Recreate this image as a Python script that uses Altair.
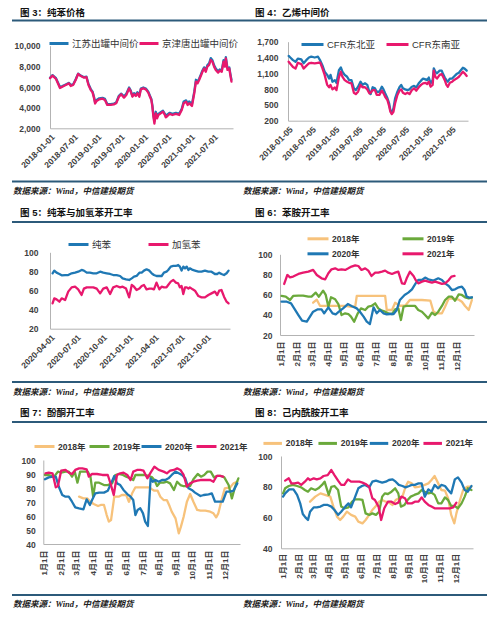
import altair as alt
import pandas as pd

FONT = "Liberation Sans, Noto Sans CJK SC"
SRC_FONT = "Liberation Serif, Noto Sans CJK SC"
BLUE = "#1f78b4"
PINK = "#e8186d"
TAN = "#f7c27b"
GREEN = "#6aa93b"
RULE = "#2c5a7a"
SOURCE = "数据来源：Wind，中信建投期货"
W, H = 484, 600

# ---------------- 图 3：纯苯价格 ----------------
p1_names = ["江苏出罐中间价", "京津唐出罐中间价"]
p1_ticks = ["2018-01-01", "2018-07-01", "2019-01-01", "2019-07-01", "2020-01-01",
            "2020-07-01", "2021-01-01", "2021-07-01"]
p1_dates = ["2018-01-01","2018-01-21","2018-02-17","2018-03-20","2018-04-08","2018-05-04","2018-05-30","2018-06-12","2018-07-01","2018-07-21",
            "2018-08-09","2018-08-30","2018-09-25","2018-10-13","2018-10-29","2018-11-16","2018-11-30","2018-12-12","2018-12-20",
            "2019-01-01","2019-01-21","2019-02-16","2019-03-07","2019-03-25","2019-04-21","2019-05-16","2019-06-03","2019-06-24","2019-07-12",
            "2019-08-03","2019-08-21","2019-09-12","2019-09-25","2019-10-08","2019-10-21","2019-11-04","2019-11-16","2019-12-01","2019-12-13",
            "2020-01-01","2020-01-21","2020-02-09","2020-02-22","2020-03-04","2020-03-12","2020-03-20","2020-03-28","2020-04-08","2020-04-18",
            "2020-04-28","2020-05-16","2020-06-03","2020-06-18","2020-06-25","2020-07-08","2020-07-26","2020-08-16","2020-09-12","2020-10-08",
            "2020-10-28","2020-11-12","2020-12-01","2020-12-13","2020-12-26",
            "2021-01-16","2021-02-03","2021-02-16","2021-03-01","2021-03-13","2021-03-26","2021-04-08","2021-04-21","2021-05-04","2021-05-16",
            "2021-05-30","2021-06-12","2021-06-25","2021-07-08","2021-07-21","2021-08-09","2021-08-21","2021-09-06","2021-09-20","2021-10-01",
            "2021-10-08","2021-10-21","2021-11-04","2021-11-12","2021-11-21"]
p1_jiangsu = [6900,7150,6850,6000,6100,6250,6400,6200,6250,6750,
              7300,7100,6950,7000,6300,5800,5550,5000,4500,
              4750,4900,4950,4850,4350,4350,4400,4500,5150,5350,
              5100,5350,5950,5650,5150,5400,5250,5500,5200,5850,
              5950,5850,5550,5150,4850,4250,3300,2700,3600,3150,
              3400,3550,3700,3400,3200,3350,3500,3400,3500,3400,
              3900,4600,4700,4450,4600,
              4350,5550,6700,6500,6800,7200,7600,7900,7650,8100,
              8300,8800,8600,8100,7800,7500,7700,7600,8600,8100,
              8900,7800,7900,7300,6700]
p1_jingjintang = [6850,7100,6770,5900,6030,6190,6350,6100,6200,6680,
                  7260,7060,6900,6950,6190,5700,5480,4900,4400,
                  4650,4800,4870,4740,4260,4260,4320,4420,5060,5290,
                  4970,5230,5850,5550,5060,5290,5130,5390,5060,5770,
                  5870,5770,5450,5060,4740,4100,3130,2450,3450,2970,
                  3290,3450,3610,3290,3060,3190,3390,3290,3390,3290,
                  3770,4420,4580,4260,4420,
                  4160,5390,6520,6350,6680,7060,7480,7800,7480,7970,
                  8130,8610,8450,7970,7650,7390,7580,7480,8450,7970,
                  8770,7650,7800,7160,6520]

# ---------------- 图 4：乙烯中间价 ----------------
p2_names = ["CFR东北亚", "CFR东南亚"]
p2_ticks = ["2018-01-05", "2018-07-05", "2019-01-05", "2019-07-05", "2020-01-05",
            "2020-07-05", "2021-01-05", "2021-07-05"]
p2_dates = ["2018-01-10","2018-01-23","2018-02-13","2018-03-05","2018-03-23","2018-04-19","2018-05-07","2018-05-28","2018-06-18","2018-07-06",
            "2018-08-02","2018-08-28","2018-09-15","2018-10-01","2018-10-19","2018-11-08","2018-11-23","2018-12-04","2018-12-19","2019-01-07",
            "2019-01-20","2019-02-08","2019-02-23","2019-03-07","2019-03-25","2019-04-13","2019-04-29","2019-05-17","2019-06-05","2019-06-20",
            "2019-07-08","2019-07-27","2019-08-12","2019-08-31","2019-09-18","2019-10-04","2019-10-14","2019-10-30","2019-11-17","2019-12-01",
            "2019-12-22","2020-01-10","2020-01-23","2020-02-05","2020-02-23","2020-03-07","2020-03-17","2020-03-28","2020-04-10","2020-04-23",
            "2020-05-11","2020-05-27","2020-06-10","2020-06-23","2020-07-11","2020-07-29","2020-08-14","2020-09-01","2020-09-19","2020-10-06",
            "2020-10-25","2020-11-12","2020-11-28","2020-12-17","2020-12-30","2021-01-12","2021-01-26","2021-02-11","2021-02-20","2021-03-04",
            "2021-03-17","2021-04-07","2021-04-23","2021-05-04","2021-05-17","2021-05-30","2021-06-10","2021-06-26","2021-07-14","2021-07-27",
            "2021-08-17","2021-09-05","2021-09-17","2021-10-06","2021-10-19","2021-11-05"]
p2_northeast = [1430,1400,1350,1320,1380,1365,1290,1350,1400,1415,
                1400,1415,1340,1255,1130,1070,1000,1070,940,970,
                920,1160,1210,1130,1070,1035,970,970,815,780,
                845,940,880,910,880,750,705,835,815,750,
                750,845,795,720,625,530,400,350,435,625,
                750,835,880,815,795,780,795,845,860,835,
                910,960,1000,985,970,1020,910,970,1195,1130,
                1100,1150,1150,1085,1020,970,940,1000,1000,1035,
                1085,1110,1150,1205,1190,1150]
p2_southeast = [1320,1280,1220,1190,1300,1275,1190,1240,1290,1300,
                1290,1300,1300,1200,1070,880,835,880,795,830,
                780,1030,1130,1035,970,940,920,910,730,705,
                750,880,835,835,795,720,730,780,780,690,
                690,770,720,655,590,480,370,325,370,530,
                690,770,795,730,705,730,705,780,815,770,
                835,880,910,920,895,940,845,880,1150,1035,
                1000,1070,1085,1035,970,880,845,920,940,970,
                1000,1035,1070,1130,1100,1050]

# ---------------- 图 5：纯苯与加氢苯开工率 ----------------
p3_names = ["纯苯", "加氢苯"]
p3_ticks = ["2020-04-01", "2020-07-01", "2020-10-01", "2021-01-01", "2021-04-01",
            "2021-07-01", "2021-10-01"]
p3_dates = ["2020-04-10","2020-04-16","2020-04-24","2020-05-04","2020-05-12","2020-05-24","2020-06-04","2020-06-16","2020-06-28","2020-07-09",
            "2020-07-21","2020-07-29","2020-08-08","2020-08-19","2020-08-31","2020-09-12","2020-09-24","2020-10-05","2020-10-17","2020-10-29",
            "2020-11-09","2020-11-21","2020-12-03","2020-12-12","2020-12-24","2021-01-04","2021-01-13","2021-01-21","2021-01-30","2021-02-09",
            "2021-02-17","2021-02-25","2021-03-06","2021-03-16","2021-03-24","2021-04-01","2021-04-10","2021-04-20","2021-04-28","2021-05-06",
            "2021-05-15","2021-05-21","2021-05-30","2021-06-08","2021-06-17","2021-06-25","2021-07-01","2021-07-07","2021-07-13","2021-07-19",
            "2021-07-25","2021-07-31","2021-08-05","2021-08-15","2021-08-23","2021-09-04","2021-09-15","2021-09-27","2021-10-09","2021-10-20",
            "2021-11-01","2021-11-09","2021-11-16","2021-11-24","2021-12-03","2021-12-12","2021-12-19"]
p3_benzene = [78,80.8,78.7,77.3,75.9,76.2,76.2,78,78.7,79.7,
              81.5,80.8,78.7,78.7,78,78,79.7,78.7,78,77.3,
              76.2,76.2,75.2,72.7,71.7,71,72.7,74.5,75.2,78.7,
              78.7,80.8,82.2,80.8,78,76.2,75.2,75.2,75.2,78.7,
              79.7,81.5,85,85.7,85.7,86.7,85,80.8,85,83.2,
              85,81.5,83.2,81.5,80.8,79.7,79.7,80.8,79.7,79.7,
              77.3,77.3,78.7,77.3,76.2,78,80.8]
p3_hydro = [46.5,51.8,50.7,48.3,51.8,50,58.8,63.3,64,61.2,
            55.3,62,63.3,63.3,63.3,62,57,62,63.3,56.3,
            63.3,64.7,63.3,64,62,52.8,65.8,64,60.5,62,
            64.7,65.8,61.2,62,62,61.2,68.2,61.2,64,63.3,
            63.3,65.8,69.3,71,68.2,67.5,63.3,64.7,56.3,63.3,
            63.3,62,63.3,61.2,59.8,54.2,52.8,52.8,55.3,57,
            58.8,55.3,59.8,60.5,53.5,48.3,46.5]

# ---------------- shared: day-of-year axis ----------------
year_names = ["2018年", "2019年", "2020年", "2021年"]
year_colors = [TAN, GREEN, BLUE, PINK]
month_days = [0, 31, 59, 90, 120, 151, 181, 212, 243, 273, 304, 334]
month_labels = ["1月1日", "2月1日", "3月1日", "4月1日", "5月1日", "6月1日",
                "7月1日", "8月1日", "9月1日", "10月1日", "11月1日", "12月1日"]

# ---------------- 图 6：苯胺开工率 ----------------
p4_day_2018 = [60,67,73,83,95,108,121,133,140,143,152,165,178,191,197,200,210,216,225,235,
               244,254,267,283,289,295,305,311,318,327,337,343,349,356,362]
p4_val_2018 = [52,55,49,48.8,48.8,48.8,48.8,48,48,58.7,58.7,58.7,58.7,58.7,58.7,44.8,44.8,52,49,49,
               54.7,54.7,54.7,54,43.1,41.5,41.5,48,56.4,56,55,53,48.8,44.8,54.7]
p4_day_2019 = [0,8,16,22,32,41,51,57,65,71,79,84,89,94,102,108,114,121,127,132,
               138,145,151,159,165,171,178,184,191,197,203,210,216,222,227,232,238,248,254,260,
               267,273,279,286,292,298,305,311,318,324,330,337,343,349,356,362]
p4_val_2019 = [58.7,58,54.7,58.7,59,59,58,58,62,58,64,59.7,48.1,57.4,55.4,50.7,39.8,41.5,40.8,38.2,
               33.2,41.5,46.4,44.8,48.1,48.8,51.4,46.4,44.1,43.1,41.5,40.8,45.5,46.4,34.9,48.1,48.8,48.8,48.8,44.8,
               43.1,39.8,36.5,42.1,39.8,43.1,48.8,54.7,58,58,54,60.3,59.7,57.4,56.4,57]
p4_day_2020 = [0,10,18,24,32,39,48,54,60,69,76,81,89,97,103,109,117,126,133,143,
               149,156,162,168,175,181,187,194,200,206,213,219,225,234,241,248,255,260,267,273,
               279,289,298,305,311,318,324,330,337,343,348,352,357,362]
p4_val_2020 = [53,53,51.4,46.4,39.8,34.2,33.2,38.2,43.1,45.5,45.5,41.5,47.4,41.5,40.5,43.1,46.4,50.7,48.8,46.4,
               43.1,38.2,33.2,30.9,47.4,41.5,44.8,41.5,40.5,40.8,40.8,44.8,54.7,59.7,62,65.3,71.2,74.5,74.5,76.9,
               75.2,73.9,76.2,74.5,71.2,68.6,64.6,65.3,67.3,67.9,64.6,58,57,57.4]
p4_day_2021 = [5,11,16,22,32,41,51,60,67,76,83,89,95,102,108,114,121,127,133,140,
               146,152,159,165,171,178,184,191,197,203,210,216,222,229,234,238,244,251,255,260,
               267,273,279,286,292,298,305,311,318,323,329]
p4_val_2021 = [70.6,79.5,77.2,77.9,80.5,81.8,82.8,84.5,79.5,76.2,75.2,81.2,85.1,86.1,84.5,85.1,84.5,86.1,87.8,89.1,
               88.4,84.5,86.1,83.8,78.5,81.8,81.8,82.8,83.8,81.8,80.5,81.8,82.8,71.2,70.6,76.2,82.8,78.5,74.5,71.2,
               72.9,73.9,72.9,71.9,72.9,71.9,70.6,71.2,74.5,77.9,78.5]

# ---------------- 图 7：酚酮开工率 ----------------
p5_day_2018 = [63,71,78,84,90,98,103,109,114,118,122,128,136,142,150,155,161,167,176,185,
               192,198,202,208,213,219,225,230,234,241,247,251,256,262,268,274,281,287,296,305,
               311,316,320,326,332,342,348,355]
p5_val_2018 = [73.8,72.6,72.6,70.2,68.6,67.1,67.9,67.9,60.7,56,57.1,73.8,73.8,75,75,70.2,76.2,80.5,80.5,80.5,
               80.5,79,78.1,78.1,73.8,71.4,71.4,67.1,63.1,58.3,47.6,52.4,59.5,70.2,75.7,70.2,64.3,63.8,63.8,63.1,
               61.9,59,61.9,71.4,79.8,80.5,83.3,84.5]
p5_day_2019 = [0,7,17,24,30,38,44,50,55,60,65,72,79,84,89,93,100,109,116,124,
               130,136,144,150,158,163,167,176,182,192,198,202,207,212,219,225,231,238,244,250,
               255,262,268,274,282,288,294,300,306,312,318,325,331,339,345,351,357]
p5_val_2019 = [89.3,89.3,88.1,91.7,91,91.7,91.7,88.1,91.7,83.8,91.7,91.7,91.7,88.1,73.8,83.8,83.8,82.1,82.1,83.3,
               89.3,90,89.3,88.1,86.9,85.7,89.3,89.3,89.3,88.6,87.6,85.7,81.4,83.8,83.8,84.5,83.3,78.6,84.5,82.1,
               81.4,81.4,81.4,86.2,90,88.1,89.3,91.7,91.7,87.6,88.6,88.6,87.6,82.1,72.6,81,86.9]
p5_day_2020 = [0,7,15,20,26,32,38,44,50,56,63,71,77,83,87,93,100,109,116,122,
               128,133,139,145,152,158,163,167,171,176,181,185,190,195,199,204,210,216,222,228,
               234,241,247,253,259,265,271,277,287,293,302,308,314,320,328,335,342,348,355]
p5_val_2020 = [86.2,87.6,88.1,88.1,80.5,75,73.8,73.8,70.2,66.2,65.5,64.8,71.9,67.9,71.4,76.2,76.7,76.7,78.1,83.3,
               88.6,83.3,82.1,78.6,75.7,73.8,71.4,60.7,64.3,65.5,61.9,56,52.9,86.9,84.5,85.7,84.5,85.7,85.7,86.9,
               89.3,91.7,90.5,89.3,86.9,79.8,78.6,76.7,74.3,75,75.5,76.2,70.2,70.2,70.2,77.4,77.4,78.1,83.3]
p5_day_2021 = [1,7,14,20,24,30,38,44,50,56,63,69,77,81,87,96,106,112,116,121,
               127,133,139,145,152,158,163,170,176,182,189,195,202,210,219,225,231,238,244,250,
               256,262,268,274,281,287,293,299,305,311,317,323,329]
p5_val_2021 = [90.5,91,90.5,80.5,81.4,92.4,92.9,91,90,92.9,94,94,93.3,88.1,90,90,89.3,89.3,89.3,83.3,
               75,89.3,90.5,91,89.3,85.7,91.7,92.9,92.9,92.4,86.9,91,95.2,92.9,91.7,90.5,92.4,92.9,94,92.9,
               89.3,81,83.3,84.5,85.2,85.7,85.7,85.7,85.7,84.5,88.6,88.6,88.1]

# ---------------- 图 8：己内酰胺开工率 ----------------
p6_day_2018 = [52,62,72,81,91,97,104,110,116,123,131,139,145,153,159,166,172,179,185,191,
               198,204,211,217,223,230,236,241,248,254,261,267,273,280,286,292,299,305,312,318,
               324,330,334,341,347,355,363]
p6_val_2018 = [70.3,73.6,75.7,74.7,73.6,67.1,60.6,58.4,60.6,63.8,61.7,60.6,57.3,56.2,58.4,61.7,64.9,67.5,70.3,71.4,
               70.3,69.7,68.2,71.4,72.5,73.6,80,83.3,82.2,79.6,80,80.5,81.2,82.2,84.4,87,82.2,77.9,77.5,72.5,
               61.7,56.2,62.7,71.4,77.9,80,80]
p6_day_2019 = [0,4,11,19,27,35,42,48,54,62,68,75,80,84,88,93,99,106,112,118,
               126,133,139,147,153,159,166,172,179,185,191,196,202,209,216,222,227,234,240,246,
               253,261,267,273,280,286,292,299,305,312,318,324,331,337,344,350,356,363]
p6_val_2019 = [75.7,79,80.5,81.2,80.5,79.6,77.9,76.8,79,77.9,79,81.2,83.3,79,74.7,80,80.5,77.9,67.1,66,
               66.6,70.3,71.8,71.8,71.4,62.7,61.7,62.7,61.7,63.8,73.6,75.7,75.3,76.8,79,75.7,67.1,68.2,71.4,73.6,
               74.7,75.7,77.9,76.8,75.7,76.2,74.7,69.2,69.2,73.1,71.4,67.5,67.5,66,69.2,73.6,79,77.9]
p6_day_2020 = [0,4,12,20,27,33,38,43,48,52,59,65,72,78,86,93,99,106,112,120,
               126,131,139,145,152,158,166,172,179,185,191,198,204,211,217,223,230,236,243,248,
               254,261,267,273,280,286,292,299,305,312,318,324,331,337,344,350,356,363]
p6_val_2020 = [73.6,75.7,78.3,78.3,74.7,69.2,62.3,60.1,58.4,63.8,66.6,66.6,67.1,68.2,68.2,67.1,64.9,61.7,63.8,67.1,
               69.2,66.6,73.6,79,80.5,81.2,79.6,83.3,84,83.3,82.7,83.3,84.4,84.8,83.3,81.2,80.5,79.6,80.5,81.2,
               81.2,82.2,82.2,73.6,78.3,76.8,81.2,79,81.2,80.5,77.9,75.7,84.8,86.1,82.7,77.9,76.8,80.5]
p6_day_2021 = [4,11,16,22,29,35,42,48,52,59,65,72,78,86,93,99,106,112,118,125,
               131,139,147,153,159,166,172,177,184,189,195,202,209,216,222,228,235,240,248,254,
               261,267,273,280,286,292,302,312,321,328,334]
p6_val_2021 = [84,85.5,82.2,82.2,82.7,81.2,83.3,85.5,84.4,85.5,84.8,85.5,87,87.6,90.9,87.6,84,81.2,81.2,84.8,
               83.3,83.3,83.3,82.7,81.8,80,72.5,71.4,67.1,58.4,66,70.3,70.3,68.8,69.7,73.6,72.5,69.2,69.2,70.3,
               70.3,73.1,70.3,68.2,67.1,66,66,66,66,66.6,69.7]


# ---------------- helpers ----------------
def utc_ms(s):
    return int(pd.Timestamp(s, tz="UTC").value // 10**6)


def one(value):
    return pd.DataFrame({"t": [value]})


def text(txt, x, y, size, font=FONT, weight="bold", style="normal", color="#111111"):
    return alt.Chart(one(txt)).mark_text(
        align="left", baseline="middle", font=font, fontSize=size, fontWeight=weight,
        fontStyle=style, color=color
    ).encode(x=alt.value(x), y=alt.value(y), text="t:N")


def band(y1, y2):
    return alt.Chart(one("")).mark_rect(color=RULE).encode(
        x=alt.value(4), x2=alt.value(479), y=alt.value(y1), y2=alt.value(y2))


def source(x, y):
    return text(SOURCE, x, y, 8.5, font=SRC_FONT, weight="bold", style="italic", color="#222222")


def series(xs, vs, name, xname):
    df = pd.DataFrame({xname: xs, "v": vs})
    df["s"] = name
    return df


def panel(frames, names, colors, spots, sym, fsize, fweight, xenc, yenc):
    layers = []
    for df, name, color, (lx, ly) in zip(frames, names, colors, spots):
        lg = alt.Legend(orient="none", legendX=lx, legendY=ly, symbolType="stroke",
                        symbolSize=sym * sym, symbolStrokeWidth=3, labelFont=FONT,
                        labelFontSize=fsize, labelFontWeight=fweight, labelColor="#333333",
                        padding=0, labelOffset=2, title=None)
        layers.append(alt.Chart(df).mark_line(strokeWidth=2.3, strokeJoin="round", strokeCap="round").encode(
            x=xenc, y=yenc,
            color=alt.Color("s:N", scale=alt.Scale(domain=[name], range=[color]), legend=lg)))
    return alt.layer(*layers).resolve_scale(color="independent").resolve_legend(color="independent")


def date_x(domain, ticks, rng, axis_y):
    return alt.X("d:T",
                 scale=alt.Scale(type="utc", domain=[utc_ms(domain[0]), utc_ms(domain[1])], range=rng),
                 axis=alt.Axis(orient="bottom", offset=axis_y - H, values=[utc_ms(t) for t in ticks],
                               labelExpr="utcFormat(datum.value, '%Y-%m-%d')",
                               labelAngle=315, labelAlign="right", labelBaseline="top",
                               labelPadding=4, title=None))


MONTH_EXPR = "{" + ",".join("'%d':'%s'" % (d, l) for d, l in zip(month_days, month_labels)) + "}[datum.value]"


def day_x(domain, rng, axis_y, pad):
    return alt.X("x:Q", scale=alt.Scale(domain=domain, range=rng, nice=False, zero=False),
                 axis=alt.Axis(orient="bottom", offset=axis_y - H, values=month_days,
                               labelExpr=MONTH_EXPR, labelAngle=270, labelAlign="right",
                               labelBaseline="middle", labelPadding=pad, labelFontSize=8, title=None))


def val_y(domain, rng, values, fmt, axis_x, pad):
    return alt.Y("v:Q", scale=alt.Scale(domain=domain, range=rng, nice=False, zero=False),
                 axis=alt.Axis(orient="left", offset=-axis_x, values=values, format=fmt,
                               labelPadding=pad, title=None))


# ---------------- panels (coordinates are pixels inside the 484x600 canvas) ----------------
p1 = panel([series(p1_dates, p1_jiangsu, p1_names[0], "d"), series(p1_dates, p1_jingjintang, p1_names[1], "d")],
           p1_names, [BLUE, PINK], [(40, 24.5), (130, 24.5)], 19, 9.5, "normal",
           date_x(["2018-01-01", "2021-12-03"], p1_ticks, [42, 225], 120.3),
           val_y([2000, 10000], [120.3, 37.7], [2000, 4000, 6000, 8000, 10000], ",d", 42, 10))

p2 = panel([series(p2_dates, p2_northeast, p2_names[0], "d"), series(p2_dates, p2_southeast, p2_names[1], "d")],
           p2_names, [BLUE, PINK], [(292, 24), (377, 24)], 22, 9.5, "normal",
           date_x(["2018-01-05", "2021-11-15"], p2_ticks, [280, 460], 112.7),
           val_y([200, 1700], [112.7, 33.7], [200, 500, 800, 1100, 1400, 1700], ",d", 280, 10))

p3 = panel([series(p3_dates, p3_benzene, p3_names[0], "d"), series(p3_dates, p3_hydro, p3_names[1], "d")],
           p3_names, [BLUE, PINK], [(59, 225), (139, 225)], 20, 9.5, "normal",
           date_x(["2020-04-01", "2021-12-24"], p3_ticks, [42, 222], 320.7),
           val_y([20, 100], [320.7, 244.3], [20, 40, 60, 80, 100], "d", 42, 12))

p4 = panel([series(p4_day_2018, p4_val_2018, year_names[0], "x"), series(p4_day_2019, p4_val_2019, year_names[1], "x"),
            series(p4_day_2020, p4_val_2020, year_names[2], "x"), series(p4_day_2021, p4_val_2021, year_names[3], "x")],
           year_names, year_colors, [(298, 218.8), (393, 218.8), (298, 233.8), (393, 233.8)], 21, 8.5, "bold",
           day_x([-3, 366], [272, 466], 327, 6),
           val_y([20, 100], [327, 246.3], [20, 40, 60, 80, 100], "d", 272, 8))

p5 = panel([series(p5_day_2018, p5_val_2018, year_names[0], "x"), series(p5_day_2019, p5_val_2019, year_names[1], "x"),
            series(p5_day_2020, p5_val_2020, year_names[2], "x"), series(p5_day_2021, p5_val_2021, year_names[3], "x")],
           year_names, year_colors, [(25, 427), (80, 427), (132, 427), (187, 427)], 20, 8.5, "bold",
           day_x([-3, 360], [35.3, 232], 536, 6),
           val_y([40, 100], [536, 452], [40, 50, 60, 70, 80, 90, 100], "d", 35.3, 8))

p6 = panel([series(p6_day_2018, p6_val_2018, year_names[0], "x"), series(p6_day_2019, p6_val_2019, year_names[1], "x"),
            series(p6_day_2020, p6_val_2020, year_names[2], "x"), series(p6_day_2021, p6_val_2021, year_names[3], "x")],
           year_names, year_colors, [(253.7, 424.4), (308.7, 424.4), (360, 424.4), (413.7, 424.4)], 18.5, 8.5, "bold",
           day_x([-4, 366], [273, 465], 540.3, 5),
           val_y([40, 100], [540.3, 448], [40, 60, 80, 100], "d", 273, 9))

decor = [
    band(11.5, 13.5), band(172.5, 174.5),
    band(213, 215), band(373, 375),
    band(413, 415), band(586, 588),
    text("图 3：纯苯价格", 12, 5, 9.5), text("图 4：乙烯中间价", 247, 5, 9.5),
    text("图 5：纯苯与加氢苯开工率", 12, 205, 9.5), text("图 6：苯胺开工率", 247, 205, 9.5),
    text("图 7：酚酮开工率", 12, 405.3, 9.5), text("图 8：己内酰胺开工率", 247, 405.3, 9.5),
    source(5, 182.5), source(235, 182.5),
    source(5, 384), source(235, 384),
    source(5, 595.5), source(235, 595.5),
]

chart = alt.layer(*decor, p1, p2, p3, p4, p5, p6).resolve_scale(
    x="independent", y="independent", color="independent"
).resolve_axis(x="independent", y="independent").resolve_legend(color="independent").properties(
    width=W, height=H, padding=0
).configure_axis(
    labelFont=FONT, labelFontSize=8.5, labelFontWeight="bold", labelColor="#404040",
    grid=False, ticks=False, tickSize=0, domainColor="#b3b3b3", domainWidth=1,
    labelOverlap=False, labelFlush=False
).configure_view(stroke="transparent")

chart.save("out.html", embed_options={"renderer": "svg", "actions": False})
